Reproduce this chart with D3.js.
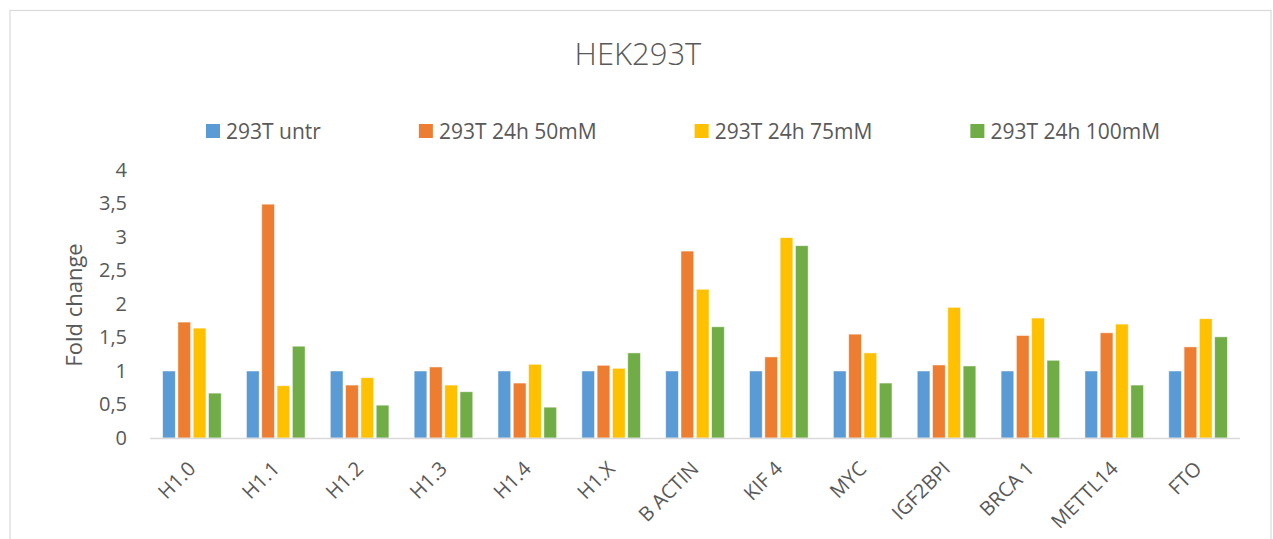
<!DOCTYPE html>
<html lang="en">
<head>
<meta charset="UTF-8">
<title>HEK293T</title>
<script src="https://d3js.org/d3.v7.min.js"></script>
<style>
  body { margin: 0; background: #fff; }
  text { font-family: "Open Sans", sans-serif; fill: #595959; }
</style>
</head>
<body>
<script>
// data
const categories = ["H1.0", "H1.1", "H1.2", "H1.3", "H1.4", "H1.X", "B ACTIN", "KIF 4", "MYC", "IGF2BPI", "BRCA 1", "METTL14", "FTO"];
const seriesNames = ["293T untr", "293T 24h 50mM", "293T 24h 75mM", "293T 24h 100mM"];
const untr   = [1, 1, 1, 1, 1, 1, 1, 1, 1, 1, 1, 1, 1];
const mM50   = [1.73, 3.49, 0.79, 1.06, 0.82, 1.085, 2.79, 1.21, 1.55, 1.09, 1.53, 1.57, 1.36];
const mM75   = [1.64, 0.78, 0.90, 0.79, 1.10, 1.04, 2.22, 2.99, 1.27, 1.95, 1.79, 1.70, 1.78];
const mM100  = [0.67, 1.37, 0.49, 0.69, 0.46, 1.27, 1.66, 2.87, 0.82, 1.075, 1.16, 0.79, 1.51];
const yTicks = [0, 0.5, 1, 1.5, 2, 2.5, 3, 3.5, 4];
const colors = ["#5B9BD5", "#ED7D31", "#FFC000", "#70AD47"];

const seriesValues = [untr, mM50, mM75, mM100];

const width = 1273;
const height = 539;
const svg = d3.select("body").append("svg")
    .attr("width", width)
    .attr("height", height);

// chart frame
svg.append("rect")
    .attr("x", 10).attr("y", 10.5)
    .attr("width", 1261).attr("height", 560)
    .attr("fill", "#fff")
    .attr("stroke", "#d9d9d9")
    .attr("stroke-width", 1.2);

const plotLeft = 150, plotRight = 1240, plotTop = 170, plotBottom = 438;

const x0 = d3.scaleBand()
    .domain(categories)
    .range([plotLeft, plotRight])
    .paddingInner(0.27)
    .paddingOuter(0.135);

const x1 = d3.scaleBand()
    .domain(seriesNames)
    .range([0, x0.bandwidth()]);

const y = d3.scaleLinear()
    .domain([0, 4])
    .range([plotBottom, plotTop]);

const fmt = d3.formatLocale({decimal: ",", thousands: ".", grouping: [3], currency: ["", ""]}).format("~g");

// title
svg.append("text")
    .attr("x", 638).attr("y", 65)
    .attr("text-anchor", "middle")
    .style("font-size", "31px")
    .style("font-weight", 300)
    .text("HEK293T");

// legend
const legend = svg.append("g");
let lx = 206;
seriesNames.forEach((name, i) => {
    legend.append("rect")
        .attr("x", lx).attr("y", 124)
        .attr("width", 14).attr("height", 14)
        .attr("fill", colors[i]);
    const t = legend.append("text")
        .attr("x", lx + 20).attr("y", 138.5)
        .style("font-size", "21px")
        .text(name);
    lx += 20 + t.node().getComputedTextLength() + 98;
});

// bars
const groups = svg.append("g")
    .selectAll("g")
    .data(categories)
    .join("g")
    .attr("transform", d => `translate(${x0(d)},0)`);

const gap = 2.6;
groups.selectAll("rect")
    .data((d, ci) => seriesNames.map((s, si) => ({s: s, si: si, v: seriesValues[si][ci]})))
    .join("rect")
    .attr("x", d => x1(d.s) + gap / 2)
    .attr("y", d => y(d.v))
    .attr("width", x1.bandwidth() - gap)
    .attr("height", d => y(0) - y(d.v))
    .attr("fill", d => colors[d.si])
    .attr("stroke", "#fff")
    .attr("stroke-opacity", 0.6)
    .attr("stroke-width", 0.8);

// x axis line
svg.append("line")
    .attr("x1", plotLeft).attr("x2", plotRight)
    .attr("y1", plotBottom + 0.5).attr("y2", plotBottom + 0.5)
    .attr("stroke", "#d9d9d9")
    .attr("stroke-width", 1.5);

// y axis labels
const yAxis = d3.axisLeft(y)
    .tickValues(yTicks)
    .tickFormat(fmt)
    .tickSize(0)
    .tickPadding(23);
const ya = svg.append("g")
    .attr("transform", `translate(${plotLeft},0)`)
    .call(yAxis);
ya.select(".domain").remove();
ya.selectAll("text")
    .attr("fill", "#595959")
    .style("font-family", "'Open Sans', sans-serif")
    .style("font-size", "20px");

// x axis labels
svg.append("g")
    .selectAll("text")
    .data(categories)
    .join("text")
    .attr("transform", d => `translate(${x0(d) + x0.bandwidth() / 2 + 5},470) rotate(-45)`)
    .attr("text-anchor", "end")
    .style("font-size", "20px")
    .text(d => d);

// y axis title
svg.append("text")
    .attr("transform", "translate(82,305) rotate(-90)")
    .attr("text-anchor", "middle")
    .style("font-size", "22px")
    .text("Fold change");
</script>
</body>
</html>
